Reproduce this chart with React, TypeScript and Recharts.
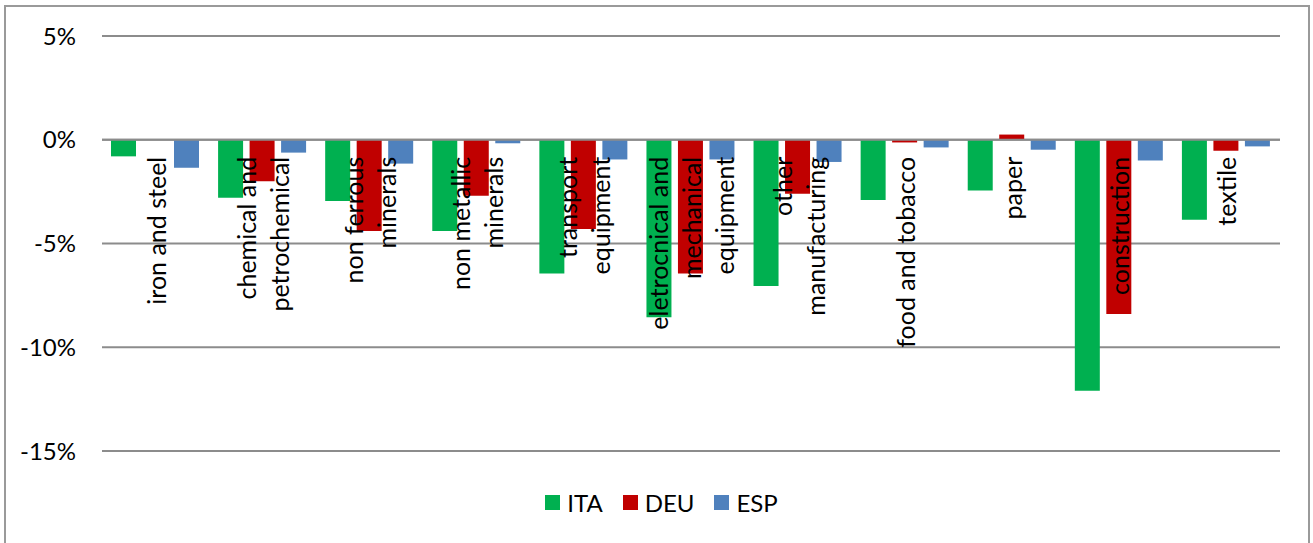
import React from 'react';
import { BarChart, Bar, XAxis, YAxis, CartesianGrid, ReferenceLine, Legend } from 'recharts';

// Sector names; "\n" marks where a label wraps onto the next line
const sectors = [
  'iron and steel',
  'chemical and\npetrochemical',
  'non ferrous\nminerals',
  'non metallic\nminerals',
  'transport\nequipment',
  'eletrocnical and\nmechanical\nequipment',
  'other\nmanufacturing',
  'food and tobacco',
  'paper',
  'construction',
  'textile',
];

// Percentage change per sector and country
const ita = [-0.8, -2.8, -2.95, -4.4, -6.45, -8.55, -7.05, -2.9, -2.45, -12.1, -3.85];
const deu = [0, -2.0, -4.4, -2.7, -4.3, -6.45, -2.6, -0.13, 0.25, -8.4, -0.53];
const esp = [-1.35, -0.62, -1.15, -0.17, -0.95, -0.95, -1.07, -0.37, -0.48, -1.0, -0.32];

const countries = ['ITA', 'DEU', 'ESP'];
const countryColors = ['#00b050', '#c00000', '#4f81bd'];

const yTicks = [-15, -10, -5, 0, 5];

const data = sectors.map((name, i) => ({ name, ITA: ita[i], DEU: deu[i], ESP: esp[i] }));

const FONT = 'Lato, "Open Sans", sans-serif';
const FONT_SIZE = 24;
const LABEL_SIZE = 25;
const CHART_W = 1313;
const CHART_H = 543;
const MARGIN = { top: 36, right: 33, bottom: 91, left: 22 };
const X_AXIS_H = 1;
const Y_MIN = -15;
const Y_MAX = 5;
const PLOT_H = CHART_H - MARGIN.top - MARGIN.bottom - X_AXIS_H;
const GRID = '#8c8c8c';

// Category labels sit just under the zero line, rotated to read upward
function SectorTick(props: any) {
  const { x, y, payload } = props;
  const zeroY = y - (PLOT_H * (0 - Y_MIN)) / (Y_MAX - Y_MIN);
  const top = zeroY + 17;
  const lines = String(payload.value).split('\n');
  const lineH = 33;
  return (
    <g transform={`rotate(-90, ${x}, ${top})`}>
      {lines.map((line, i) => (
        <text
          key={i}
          x={x}
          y={top}
          dy={(i - (lines.length - 1) / 2) * lineH}
          textAnchor="end"
          dominantBaseline="central"
          fontFamily={FONT}
          fontSize={LABEL_SIZE}
          fill="#000"
        >
          {line}
        </text>
      ))}
    </g>
  );
}

// Legend kept in series order (ITA, DEU, ESP)
function LegendRow(props: any) {
  const items = [...(props.payload || [])].sort(
    (a: any, b: any) => countries.indexOf(a.value) - countries.indexOf(b.value)
  );
  return (
    <div
      style={{
        display: 'flex',
        justifyContent: 'center',
        alignItems: 'center',
        gap: 20,
        paddingLeft: 10,
        fontFamily: FONT,
        fontSize: FONT_SIZE,
        color: '#000',
      }}
    >
      {items.map((it: any) => (
        <span key={it.value} style={{ display: 'flex', alignItems: 'center' }}>
          <span style={{ width: 15, height: 15, background: it.color, marginRight: 7, display: 'inline-block' }} />
          {it.value}
        </span>
      ))}
    </div>
  );
}

export default function App() {
  return (
    <div
      style={{
        position: 'absolute',
        left: 0,
        top: 0,
        width: CHART_W,
        height: CHART_H,
        overflow: 'hidden',
        background: '#fff',
      }}
    >
      <div
        style={{
          position: 'absolute',
          left: 4,
          top: 5,
          width: 1306,
          height: 620,
          border: '2px solid #9a9a9a',
          boxSizing: 'border-box',
        }}
      />
      <div style={{ position: 'absolute', left: 0, top: 0 }}>
        <BarChart
          width={CHART_W}
          height={CHART_H}
          data={data}
          margin={MARGIN}
          barCategoryGap={9}
          barGap={6.5}
        >
          <CartesianGrid vertical={false} stroke={GRID} strokeWidth={2} />
          <XAxis
            dataKey="name"
            height={X_AXIS_H}
            axisLine={false}
            tickLine={false}
            tickSize={0}
            tickMargin={0}
            interval={0}
            tick={<SectorTick />}
          />
          <YAxis
            width={80}
            domain={[Y_MIN, Y_MAX]}
            ticks={yTicks}
            allowDataOverflow
            axisLine={false}
            tickLine={false}
            tickSize={0}
            tickMargin={26}
            tickFormatter={(v: number) => `${v}%`}
            tick={{ fontFamily: FONT, fontSize: FONT_SIZE, fill: '#000' }}
          />
          {countries.map((c, i) => (
            <Bar key={c} dataKey={c} fill={countryColors[i]} isAnimationActive={false} />
          ))}
          <ReferenceLine y={0} stroke={GRID} strokeWidth={2} />
          <Legend
            layout="horizontal"
            verticalAlign="middle"
            align="center"
            content={<LegendRow />}
            wrapperStyle={{ top: 488, left: 0, width: CHART_W }}
          />
        </BarChart>
      </div>
    </div>
  );
}
